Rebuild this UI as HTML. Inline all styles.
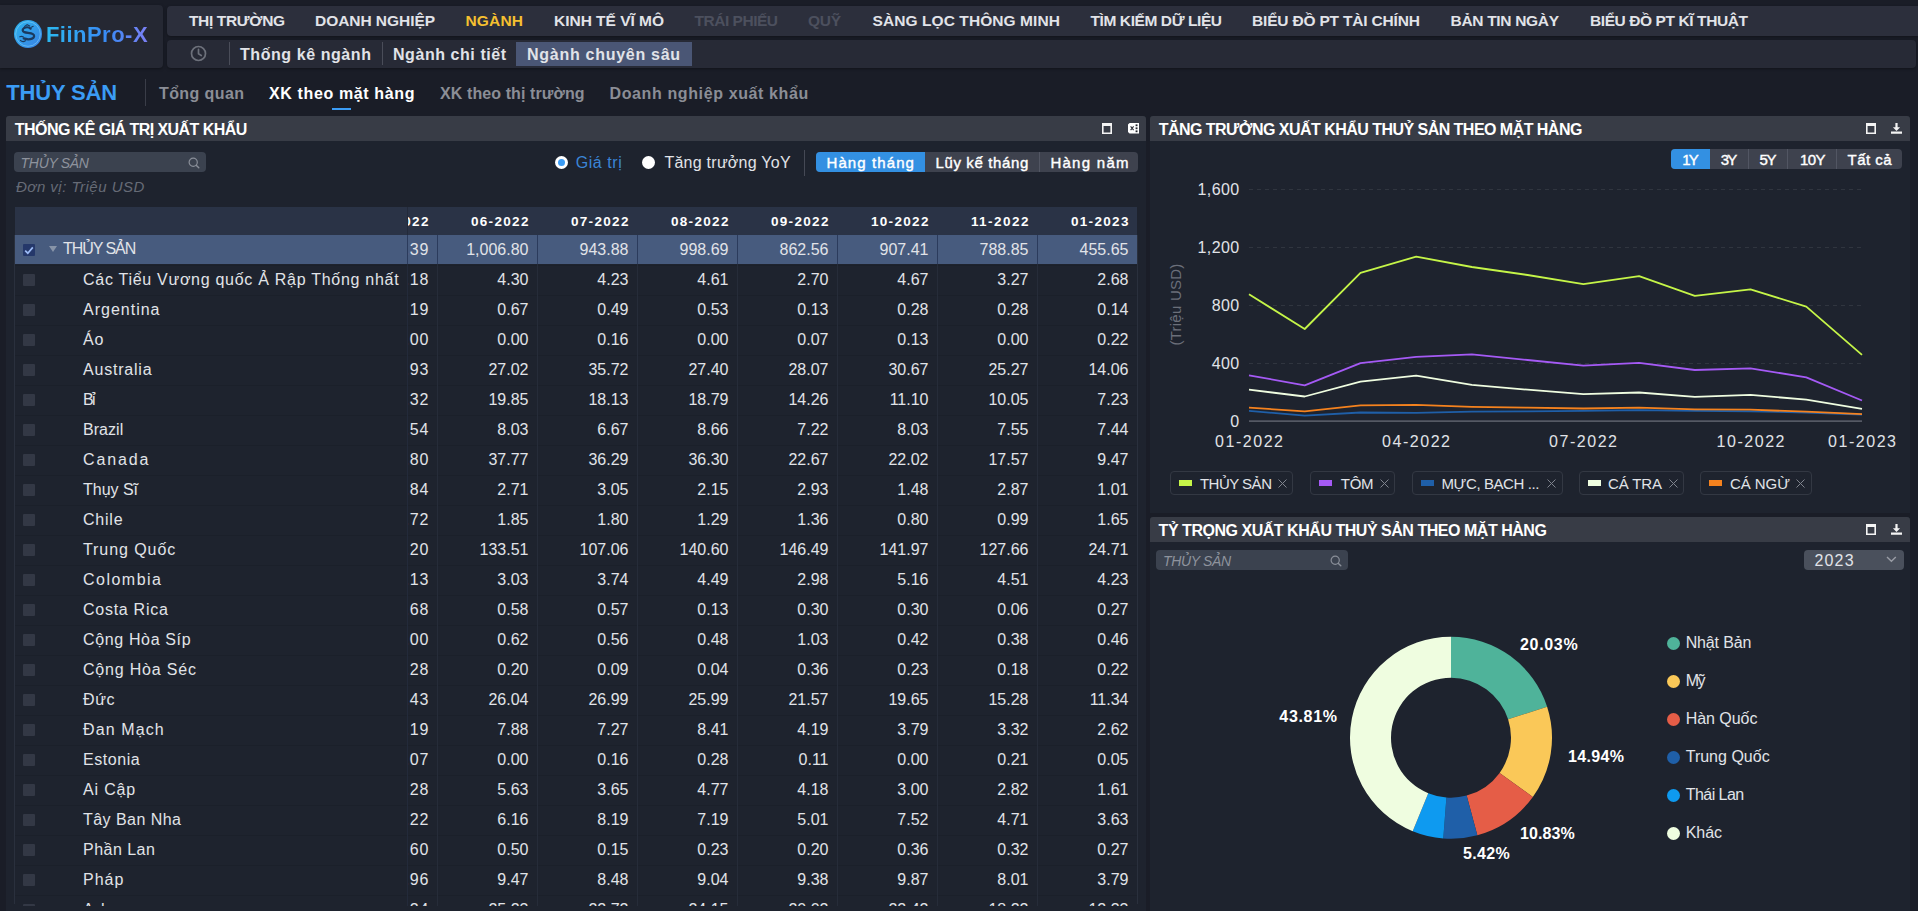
<!DOCTYPE html>
<html lang="vi"><head><meta charset="utf-8"><title>FiinPro-X</title>
<style>
html,body{margin:0;padding:0}
body{width:1918px;height:911px;overflow:hidden;position:relative;background:#1a1d27;color:#e1e3e8;font-family:"Liberation Sans", sans-serif;font-size:16px}
.t,.u{position:absolute;white-space:nowrap;line-height:1em}
.abs{position:absolute}
.sb{font-weight:700}
.md{font-weight:400;-webkit-text-stroke:.4px currentColor}
.panel{position:absolute;background:#1e232e;border-radius:3px 3px 0 0}
.phead{position:absolute;left:0;top:0;right:0;height:25px;background:#383c46;border-radius:3px 3px 0 0}
.row{position:absolute;left:0;width:1122px;height:30px;box-shadow:inset 0 1px 0 #1b202a}
.cb{position:absolute;left:8px;top:9px;width:12px;height:12px;background:#333845;border-radius:1px}
.num{position:absolute;top:6.7px;width:91.5px;text-align:right;line-height:1em;font-size:16px;white-space:nowrap}
.vl{position:absolute;top:28px;bottom:0;width:1px;background:#262c39}
.grad{background:linear-gradient(90deg,#2bb8f0 0%,#3a8af5 60%,#7c80f5 100%);-webkit-background-clip:text;background-clip:text;color:transparent !important;-webkit-text-fill-color:transparent}
</style></head>
<body>
<div class="abs" style="left:0;top:5px;width:163px;height:63px;background:#252833;border-radius:0 4px 4px 0;box-shadow:0 1px 3px rgba(0,0,0,.35)"><svg class="abs" style="left:13px;top:14px" width="30" height="30" viewBox="0 0 30 30">
<defs><linearGradient id="lg" x1="0" y1="0" x2="1" y2="1"><stop offset="0" stop-color="#2cb6ee"/><stop offset="1" stop-color="#3a80e4"/></linearGradient></defs>
<circle cx="15" cy="15" r="14" fill="url(#lg)"/>
<circle cx="15" cy="15" r="12.3" fill="none" stroke="#7fd0f7" stroke-width="0.8" opacity=".75"/>
<path d="M17.6 9.6c-1.5-1.4-4.6-1.7-6.6-.5-1.9 1.2-1.7 3.2.3 4 2.400 1 6.400 .6 8.600 2 2 1.300 1.400 3.600-.8 4.500-2.300 .9-5.700 .8-8.300-.2" fill="none" stroke="#1b3a5f" stroke-width="2.3" stroke-linecap="round"/>
<path d="M11.6 7.400l2.500-1.700 2.700 1.400M18.300 8.200l1.900-.9" fill="none" stroke="#1b3a5f" stroke-width="1.100" stroke-linecap="round"/>
<path d="M7.400 21.400c1.400 1.300 3.500 1.400 5 .3M6.800 17.800c1.200-.7 2.600-.5 3.600.2" fill="none" stroke="#1b3a5f" stroke-width="1.100" stroke-linecap="round"/>
</svg><span class="t grad" style="left:45.9px;top:18.9px;font-size:22px;font-weight:700;letter-spacing:0.49px;">FiinPro-X</span></div>
<div class="abs" style="left:167px;top:6px;width:1751px;height:30px;background:#2c2f3c;border-radius:4px 0 0 4px;box-shadow:0 1px 3px rgba(0,0,0,.35)"><span class="t sb" style="left:22.0px;top:7.4px;font-size:15.5px;letter-spacing:-0.36px;">THỊ TRƯỜNG</span><span class="t sb" style="left:148.0px;top:7.4px;font-size:15.5px;letter-spacing:-0.05px;">DOANH NGHIỆP</span><span class="t sb" style="left:298.5px;top:7.4px;font-size:15.5px;color:#f5c030;letter-spacing:0.16px;">NGÀNH</span><span class="t sb" style="left:387.0px;top:7.4px;font-size:15.5px;letter-spacing:-0.02px;">KINH TẾ VĨ MÔ</span><span class="t sb" style="left:527.5px;top:7.4px;font-size:15.5px;color:#4c505e;letter-spacing:-0.48px;">TRÁI PHIẾU</span><span class="t sb" style="left:641.0px;top:7.4px;font-size:15.5px;color:#4c505e;letter-spacing:-0.30px;">QUỸ</span><span class="t sb" style="left:705.5px;top:7.4px;font-size:15.5px;letter-spacing:0.08px;">SÀNG LỌC THÔNG MINH</span><span class="t sb" style="left:923.5px;top:7.4px;font-size:15.5px;letter-spacing:-0.41px;">TÌM KIẾM DỮ LIỆU</span><span class="t sb" style="left:1085.0px;top:7.4px;font-size:15.5px;letter-spacing:-0.18px;">BIỂU ĐỒ PT TÀI CHÍNH</span><span class="t sb" style="left:1283.5px;top:7.4px;font-size:15.5px;letter-spacing:-0.31px;">BẢN TIN NGÀY</span><span class="t sb" style="left:1423.0px;top:7.4px;font-size:15.5px;letter-spacing:-0.41px;">BIỂU ĐỒ PT KĨ THUẬT</span></div>
<div class="abs" style="left:167px;top:40px;width:1749px;height:28px;background:#272a36;border-radius:4px;box-shadow:0 1px 3px rgba(0,0,0,.35)"><svg class="abs" style="left:23px;top:4.7px" width="17" height="17" viewBox="0 0 17 17"><circle cx="8.5" cy="8.5" r="7" fill="none" stroke="#6d717b" stroke-width="1.7"/><path d="M8.5 4.4v4.4l2.8 1.7" fill="none" stroke="#6d717b" stroke-width="1.7" stroke-linecap="round" stroke-linejoin="round"/></svg><div style="position:absolute;left:62px;top:2px;width:1px;height:23px;background:#4a4d59;"></div><div style="position:absolute;left:215px;top:2px;width:1px;height:23px;background:#4a4d59;"></div><div style="position:absolute;left:349px;top:2px;width:176px;height:24px;background:#4a5675;"></div><span class="t sb" style="left:73.0px;top:6.5px;font-size:16px;letter-spacing:0.57px;">Thống kê ngành</span><span class="t sb" style="left:226.0px;top:6.5px;font-size:16px;letter-spacing:0.56px;">Ngành chi tiết</span><span class="t sb" style="left:360.0px;top:6.5px;font-size:16px;letter-spacing:0.72px;">Ngành chuyên sâu</span></div>
<span class="t" style="left:6.2px;top:82.1px;font-size:22px;font-weight:700;color:#3b9cf5;letter-spacing:-0.14px;">THỦY SẢN</span>
<div style="position:absolute;left:145px;top:79px;width:1px;height:27px;background:#3a3d48;"></div>
<span class="t sb" style="left:159.0px;top:86.0px;font-size:16px;color:#8b8e96;letter-spacing:0.40px;">Tổng quan</span>
<span class="t sb" style="left:269.0px;top:86.0px;font-size:16px;color:#ffffff;letter-spacing:0.63px;">XK theo mặt hàng</span>
<div style="position:absolute;left:332px;top:108px;width:19px;height:2px;background:#3b9cf5;"></div>
<span class="t sb" style="left:440.0px;top:86.0px;font-size:16px;color:#8b8e96;letter-spacing:0.10px;">XK theo thị trường</span>
<span class="t sb" style="left:609.5px;top:86.0px;font-size:16px;color:#8b8e96;letter-spacing:0.62px;">Doanh nghiệp xuất khẩu</span>
<div class="panel" style="left:6px;top:116px;width:1140px;height:795px"><div class="phead"><span class="t" style="left:8.8px;top:5.5px;font-size:16px;font-weight:700;color:#ffffff;letter-spacing:-0.55px;">THỐNG KÊ GIÁ TRỊ XUẤT KHẨU</span><svg class="abs" style="left:1096px;top:7px" width="10" height="11" viewBox="0 0 10 11"><path d="M0 0h10v11h-10z M1.600 3v6.400h6.800v-6.400z" fill="#f4f4f4" fill-rule="evenodd"/></svg><svg class="abs" style="left:1121.8px;top:7px" width="11" height="11" viewBox="0 0 11 11"><path d="M1.6 0h9.4v10.6h-9.4l-1.6-1.6v-7.4z" fill="#fff"/><path d="M2.6 3.4l3 3.8M5.6 3.4l-3 3.8" stroke="#2c2f38" stroke-width="1.1"/><rect x="7.6" y="1.4" width="1.9" height="1.8" fill="#20232b"/><rect x="7.6" y="4.4" width="1.9" height="1.8" fill="#20232b"/><rect x="7.6" y="7.4" width="1.9" height="1.8" fill="#20232b"/></svg></div><div style="position:absolute;left:8px;top:36px;width:192px;height:20px;background:#3b424f;border-radius:4px"><span class="t" style="left:6.6px;top:3.7px;font-size:14px;font-style:italic;color:#8e939d;letter-spacing:-0.31px;">THỦY SẢN</span></div><svg class="abs" style="left:181.5px;top:40.5px" width="12" height="12" viewBox="0 0 12 12"><circle cx="5.2" cy="5.2" r="4.1" fill="none" stroke="#8a8f99" stroke-width="1.2"/><path d="M8.2 8.2l2.6 2.6" stroke="#8a8f99" stroke-width="1.4" stroke-linecap="round"/></svg><span class="t" style="left:10.0px;top:63.3px;font-size:15px;font-style:italic;color:#666b76;letter-spacing:0.49px;">Đơn vị: Triệu USD</span><div class="abs" style="left:548.7px;top:39.7px;width:13.4px;height:13.4px;border-radius:50%;background:#fff"><div class="abs" style="left:3.2px;top:3.2px;width:7px;height:7px;border-radius:50%;background:#3b9cf5"></div></div><span class="t" style="left:569.7px;top:38.7px;font-size:16px;color:#3b85d6;letter-spacing:0.57px;">Giá trị</span><div class="abs" style="left:635.7px;top:39.7px;width:13.4px;height:13.4px;border-radius:50%;background:#fff"></div><span class="t" style="left:658.4px;top:38.7px;font-size:16px;letter-spacing:0.26px;">Tăng trưởng YoY</span><div style="position:absolute;left:797.5px;top:33.5px;width:1px;height:26px;background:#454955;"></div><div style="position:absolute;left:810px;top:36px;width:322px;height:20px;background:#3e424e;border-radius:4px;overflow:hidden"><div class="abs" style="left:0;top:0;width:109px;height:20px;background:#3390e2"></div><div class="abs" style="left:223px;top:0;width:1px;height:20px;background:#525663"></div></div><span class="t md" style="left:820.5px;top:38.9px;font-size:15px;color:#ffffff;letter-spacing:1.10px;">Hàng tháng</span><span class="t md" style="left:929.4px;top:38.9px;font-size:15px;color:#ffffff;letter-spacing:0.65px;">Lũy kế tháng</span><span class="t md" style="left:1044.4px;top:38.9px;font-size:15px;color:#ffffff;letter-spacing:1.27px;">Hàng năm</span><div class="abs" style="left:9px;top:91px;width:392px;height:699px;overflow:hidden"><div style="position:absolute;left:0px;top:0px;width:392px;height:28px;background:#2a3346;"></div><div class="row" style="top:28px;width:392px;background:#475b7e;height:29px;box-shadow:none;"><div class="cb" style="background:#25386a"><svg class="abs" style="left:1px;top:1.5px" width="10" height="9" viewBox="0 0 10 9"><path d="M1.2 4.6l2.6 2.6 5-5.8" fill="none" stroke="#9dbcf6" stroke-width="1.7"/></svg></div><div class="abs" style="left:33.8px;top:11.3px;width:0;height:0;border-left:4px solid transparent;border-right:4px solid transparent;border-top:6px solid #8794a8"></div><span class="t" style="left:48.0px;top:6.1px;font-size:16px;letter-spacing:-1.06px;">THỦY SẢN</span></div><div class="row" style="top:58px;width:392px;"><div class="cb"></div><span class="t" style="left:68.0px;top:7.1px;font-size:16px;letter-spacing:0.72px;">Các Tiểu Vương quốc Ả Rập Thống nhất</span></div><div class="row" style="top:88px;width:392px;"><div class="cb"></div><span class="t" style="left:68.0px;top:7.1px;font-size:16px;letter-spacing:1.00px;">Argentina</span></div><div class="row" style="top:118px;width:392px;"><div class="cb"></div><span class="t" style="left:68.0px;top:7.1px;font-size:16px;letter-spacing:0.92px;">Áo</span></div><div class="row" style="top:148px;width:392px;"><div class="cb"></div><span class="t" style="left:68.0px;top:7.1px;font-size:16px;letter-spacing:0.79px;">Australia</span></div><div class="row" style="top:178px;width:392px;"><div class="cb"></div><span class="t" style="left:68.0px;top:7.1px;font-size:16px;letter-spacing:-1.63px;">Bỉ</span></div><div class="row" style="top:208px;width:392px;"><div class="cb"></div><span class="t" style="left:68.0px;top:7.1px;font-size:16px;letter-spacing:0.04px;">Brazil</span></div><div class="row" style="top:238px;width:392px;"><div class="cb"></div><span class="t" style="left:68.0px;top:7.1px;font-size:16px;letter-spacing:1.85px;">Canada</span></div><div class="row" style="top:268px;width:392px;"><div class="cb"></div><span class="t" style="left:68.0px;top:7.1px;font-size:16px;letter-spacing:-0.02px;">Thụy Sĩ</span></div><div class="row" style="top:298px;width:392px;"><div class="cb"></div><span class="t" style="left:68.0px;top:7.1px;font-size:16px;letter-spacing:0.78px;">Chile</span></div><div class="row" style="top:328px;width:392px;"><div class="cb"></div><span class="t" style="left:68.0px;top:7.1px;font-size:16px;letter-spacing:0.93px;">Trung Quốc</span></div><div class="row" style="top:358px;width:392px;"><div class="cb"></div><span class="t" style="left:68.0px;top:7.1px;font-size:16px;letter-spacing:1.49px;">Colombia</span></div><div class="row" style="top:388px;width:392px;"><div class="cb"></div><span class="t" style="left:68.0px;top:7.1px;font-size:16px;letter-spacing:0.73px;">Costa Rica</span></div><div class="row" style="top:418px;width:392px;"><div class="cb"></div><span class="t" style="left:68.0px;top:7.1px;font-size:16px;letter-spacing:0.64px;">Cộng Hòa Síp</span></div><div class="row" style="top:448px;width:392px;"><div class="cb"></div><span class="t" style="left:68.0px;top:7.1px;font-size:16px;letter-spacing:0.81px;">Cộng Hòa Séc</span></div><div class="row" style="top:478px;width:392px;"><div class="cb"></div><span class="t" style="left:68.0px;top:7.1px;font-size:16px;letter-spacing:0.62px;">Đức</span></div><div class="row" style="top:508px;width:392px;"><div class="cb"></div><span class="t" style="left:68.0px;top:7.1px;font-size:16px;letter-spacing:1.11px;">Đan Mạch</span></div><div class="row" style="top:538px;width:392px;"><div class="cb"></div><span class="t" style="left:68.0px;top:7.1px;font-size:16px;letter-spacing:0.55px;">Estonia</span></div><div class="row" style="top:568px;width:392px;"><div class="cb"></div><span class="t" style="left:68.0px;top:7.1px;font-size:16px;letter-spacing:0.83px;">Ai Cập</span></div><div class="row" style="top:598px;width:392px;"><div class="cb"></div><span class="t" style="left:68.0px;top:7.1px;font-size:16px;letter-spacing:0.45px;">Tây Ban Nha</span></div><div class="row" style="top:628px;width:392px;"><div class="cb"></div><span class="t" style="left:68.0px;top:7.1px;font-size:16px;letter-spacing:0.47px;">Phần Lan</span></div><div class="row" style="top:658px;width:392px;"><div class="cb"></div><span class="t" style="left:68.0px;top:7.1px;font-size:16px;letter-spacing:1.01px;">Pháp</span></div><div class="row" style="top:688px;width:392px;"><div class="cb"></div><span class="t" style="left:68.0px;top:7.1px;font-size:16px;letter-spacing:-0.73px;">Anh</span></div></div><div class="abs" style="left:401px;top:91px;width:730px;height:699px;overflow:hidden"><div style="position:absolute;left:0px;top:0px;width:730px;height:28px;background:#2a3346;"></div><span class="t" style="left:-36.1px;top:7.5px;font-size:13.5px;font-weight:700;color:#ffffff;letter-spacing:1.33px;">05-2022</span><span class="t" style="left:63.9px;top:7.5px;font-size:13.5px;font-weight:700;color:#ffffff;letter-spacing:1.33px;">06-2022</span><span class="t" style="left:163.9px;top:7.5px;font-size:13.5px;font-weight:700;color:#ffffff;letter-spacing:1.33px;">07-2022</span><span class="t" style="left:263.9px;top:7.5px;font-size:13.5px;font-weight:700;color:#ffffff;letter-spacing:1.33px;">08-2022</span><span class="t" style="left:363.9px;top:7.5px;font-size:13.5px;font-weight:700;color:#ffffff;letter-spacing:1.33px;">09-2022</span><span class="t" style="left:463.9px;top:7.5px;font-size:13.5px;font-weight:700;color:#ffffff;letter-spacing:1.33px;">10-2022</span><span class="t" style="left:563.9px;top:7.5px;font-size:13.5px;font-weight:700;color:#ffffff;letter-spacing:1.45px;">11-2022</span><span class="t" style="left:663.9px;top:7.5px;font-size:13.5px;font-weight:700;color:#ffffff;letter-spacing:1.33px;">01-2023</span><div class="row" style="top:28px;width:730px;background:#475b7e;height:29px;box-shadow:none;"><span class="num" style="left:-69.1px;letter-spacing:.9px">1,065.39</span><span class="num" style="left:30px">1,006.80</span><span class="num" style="left:130px">943.88</span><span class="num" style="left:230px">998.69</span><span class="num" style="left:330px">862.56</span><span class="num" style="left:430px">907.41</span><span class="num" style="left:530px">788.85</span><span class="num" style="left:630px">455.65</span></div><div class="row" style="top:58px;width:730px;"><span class="num" style="left:-69.1px;letter-spacing:.9px">4.18</span><span class="num" style="left:30px">4.30</span><span class="num" style="left:130px">4.23</span><span class="num" style="left:230px">4.61</span><span class="num" style="left:330px">2.70</span><span class="num" style="left:430px">4.67</span><span class="num" style="left:530px">3.27</span><span class="num" style="left:630px">2.68</span></div><div class="row" style="top:88px;width:730px;"><span class="num" style="left:-69.1px;letter-spacing:.9px">0.19</span><span class="num" style="left:30px">0.67</span><span class="num" style="left:130px">0.49</span><span class="num" style="left:230px">0.53</span><span class="num" style="left:330px">0.13</span><span class="num" style="left:430px">0.28</span><span class="num" style="left:530px">0.28</span><span class="num" style="left:630px">0.14</span></div><div class="row" style="top:118px;width:730px;"><span class="num" style="left:-69.1px;letter-spacing:.9px">0.00</span><span class="num" style="left:30px">0.00</span><span class="num" style="left:130px">0.16</span><span class="num" style="left:230px">0.00</span><span class="num" style="left:330px">0.07</span><span class="num" style="left:430px">0.13</span><span class="num" style="left:530px">0.00</span><span class="num" style="left:630px">0.22</span></div><div class="row" style="top:148px;width:730px;"><span class="num" style="left:-69.1px;letter-spacing:.9px">29.93</span><span class="num" style="left:30px">27.02</span><span class="num" style="left:130px">35.72</span><span class="num" style="left:230px">27.40</span><span class="num" style="left:330px">28.07</span><span class="num" style="left:430px">30.67</span><span class="num" style="left:530px">25.27</span><span class="num" style="left:630px">14.06</span></div><div class="row" style="top:178px;width:730px;"><span class="num" style="left:-69.1px;letter-spacing:.9px">18.32</span><span class="num" style="left:30px">19.85</span><span class="num" style="left:130px">18.13</span><span class="num" style="left:230px">18.79</span><span class="num" style="left:330px">14.26</span><span class="num" style="left:430px">11.10</span><span class="num" style="left:530px">10.05</span><span class="num" style="left:630px">7.23</span></div><div class="row" style="top:208px;width:730px;"><span class="num" style="left:-69.1px;letter-spacing:.9px">7.54</span><span class="num" style="left:30px">8.03</span><span class="num" style="left:130px">6.67</span><span class="num" style="left:230px">8.66</span><span class="num" style="left:330px">7.22</span><span class="num" style="left:430px">8.03</span><span class="num" style="left:530px">7.55</span><span class="num" style="left:630px">7.44</span></div><div class="row" style="top:238px;width:730px;"><span class="num" style="left:-69.1px;letter-spacing:.9px">36.80</span><span class="num" style="left:30px">37.77</span><span class="num" style="left:130px">36.29</span><span class="num" style="left:230px">36.30</span><span class="num" style="left:330px">22.67</span><span class="num" style="left:430px">22.02</span><span class="num" style="left:530px">17.57</span><span class="num" style="left:630px">9.47</span></div><div class="row" style="top:268px;width:730px;"><span class="num" style="left:-69.1px;letter-spacing:.9px">2.84</span><span class="num" style="left:30px">2.71</span><span class="num" style="left:130px">3.05</span><span class="num" style="left:230px">2.15</span><span class="num" style="left:330px">2.93</span><span class="num" style="left:430px">1.48</span><span class="num" style="left:530px">2.87</span><span class="num" style="left:630px">1.01</span></div><div class="row" style="top:298px;width:730px;"><span class="num" style="left:-69.1px;letter-spacing:.9px">1.72</span><span class="num" style="left:30px">1.85</span><span class="num" style="left:130px">1.80</span><span class="num" style="left:230px">1.29</span><span class="num" style="left:330px">1.36</span><span class="num" style="left:430px">0.80</span><span class="num" style="left:530px">0.99</span><span class="num" style="left:630px">1.65</span></div><div class="row" style="top:328px;width:730px;"><span class="num" style="left:-69.1px;letter-spacing:.9px">170.20</span><span class="num" style="left:30px">133.51</span><span class="num" style="left:130px">107.06</span><span class="num" style="left:230px">140.60</span><span class="num" style="left:330px">146.49</span><span class="num" style="left:430px">141.97</span><span class="num" style="left:530px">127.66</span><span class="num" style="left:630px">24.71</span></div><div class="row" style="top:358px;width:730px;"><span class="num" style="left:-69.1px;letter-spacing:.9px">4.13</span><span class="num" style="left:30px">3.03</span><span class="num" style="left:130px">3.74</span><span class="num" style="left:230px">4.49</span><span class="num" style="left:330px">2.98</span><span class="num" style="left:430px">5.16</span><span class="num" style="left:530px">4.51</span><span class="num" style="left:630px">4.23</span></div><div class="row" style="top:388px;width:730px;"><span class="num" style="left:-69.1px;letter-spacing:.9px">0.68</span><span class="num" style="left:30px">0.58</span><span class="num" style="left:130px">0.57</span><span class="num" style="left:230px">0.13</span><span class="num" style="left:330px">0.30</span><span class="num" style="left:430px">0.30</span><span class="num" style="left:530px">0.06</span><span class="num" style="left:630px">0.27</span></div><div class="row" style="top:418px;width:730px;"><span class="num" style="left:-69.1px;letter-spacing:.9px">1.00</span><span class="num" style="left:30px">0.62</span><span class="num" style="left:130px">0.56</span><span class="num" style="left:230px">0.48</span><span class="num" style="left:330px">1.03</span><span class="num" style="left:430px">0.42</span><span class="num" style="left:530px">0.38</span><span class="num" style="left:630px">0.46</span></div><div class="row" style="top:448px;width:730px;"><span class="num" style="left:-69.1px;letter-spacing:.9px">0.28</span><span class="num" style="left:30px">0.20</span><span class="num" style="left:130px">0.09</span><span class="num" style="left:230px">0.04</span><span class="num" style="left:330px">0.36</span><span class="num" style="left:430px">0.23</span><span class="num" style="left:530px">0.18</span><span class="num" style="left:630px">0.22</span></div><div class="row" style="top:478px;width:730px;"><span class="num" style="left:-69.1px;letter-spacing:.9px">27.43</span><span class="num" style="left:30px">26.04</span><span class="num" style="left:130px">26.99</span><span class="num" style="left:230px">25.99</span><span class="num" style="left:330px">21.57</span><span class="num" style="left:430px">19.65</span><span class="num" style="left:530px">15.28</span><span class="num" style="left:630px">11.34</span></div><div class="row" style="top:508px;width:730px;"><span class="num" style="left:-69.1px;letter-spacing:.9px">8.19</span><span class="num" style="left:30px">7.88</span><span class="num" style="left:130px">7.27</span><span class="num" style="left:230px">8.41</span><span class="num" style="left:330px">4.19</span><span class="num" style="left:430px">3.79</span><span class="num" style="left:530px">3.32</span><span class="num" style="left:630px">2.62</span></div><div class="row" style="top:538px;width:730px;"><span class="num" style="left:-69.1px;letter-spacing:.9px">0.07</span><span class="num" style="left:30px">0.00</span><span class="num" style="left:130px">0.16</span><span class="num" style="left:230px">0.28</span><span class="num" style="left:330px">0.11</span><span class="num" style="left:430px">0.00</span><span class="num" style="left:530px">0.21</span><span class="num" style="left:630px">0.05</span></div><div class="row" style="top:568px;width:730px;"><span class="num" style="left:-69.1px;letter-spacing:.9px">5.28</span><span class="num" style="left:30px">5.63</span><span class="num" style="left:130px">3.65</span><span class="num" style="left:230px">4.77</span><span class="num" style="left:330px">4.18</span><span class="num" style="left:430px">3.00</span><span class="num" style="left:530px">2.82</span><span class="num" style="left:630px">1.61</span></div><div class="row" style="top:598px;width:730px;"><span class="num" style="left:-69.1px;letter-spacing:.9px">7.22</span><span class="num" style="left:30px">6.16</span><span class="num" style="left:130px">8.19</span><span class="num" style="left:230px">7.19</span><span class="num" style="left:330px">5.01</span><span class="num" style="left:430px">7.52</span><span class="num" style="left:530px">4.71</span><span class="num" style="left:630px">3.63</span></div><div class="row" style="top:628px;width:730px;"><span class="num" style="left:-69.1px;letter-spacing:.9px">0.60</span><span class="num" style="left:30px">0.50</span><span class="num" style="left:130px">0.15</span><span class="num" style="left:230px">0.23</span><span class="num" style="left:330px">0.20</span><span class="num" style="left:430px">0.36</span><span class="num" style="left:530px">0.32</span><span class="num" style="left:630px">0.27</span></div><div class="row" style="top:658px;width:730px;"><span class="num" style="left:-69.1px;letter-spacing:.9px">10.96</span><span class="num" style="left:30px">9.47</span><span class="num" style="left:130px">8.48</span><span class="num" style="left:230px">9.04</span><span class="num" style="left:330px">9.38</span><span class="num" style="left:430px">9.87</span><span class="num" style="left:530px">8.01</span><span class="num" style="left:630px">3.79</span></div><div class="row" style="top:688px;width:730px;"><span class="num" style="left:-69.1px;letter-spacing:.9px">25.24</span><span class="num" style="left:30px">25.23</span><span class="num" style="left:130px">22.72</span><span class="num" style="left:230px">24.15</span><span class="num" style="left:330px">20.02</span><span class="num" style="left:430px">22.42</span><span class="num" style="left:530px">18.22</span><span class="num" style="left:630px">12.33</span></div><div class="vl" style="left:0;top:0;background:#232a3a"></div><div class="abs" style="left:0;top:28px;width:1px;height:29px;background:#2b3b5c"></div><div class="vl" style="left:30px"></div><div class="abs" style="left:30px;top:28px;width:1px;height:29px;background:#2b3b5c"></div><div class="vl" style="left:130px"></div><div class="abs" style="left:130px;top:28px;width:1px;height:29px;background:#2b3b5c"></div><div class="vl" style="left:230px"></div><div class="abs" style="left:230px;top:28px;width:1px;height:29px;background:#2b3b5c"></div><div class="vl" style="left:330px"></div><div class="abs" style="left:330px;top:28px;width:1px;height:29px;background:#2b3b5c"></div><div class="vl" style="left:430px"></div><div class="abs" style="left:430px;top:28px;width:1px;height:29px;background:#2b3b5c"></div><div class="vl" style="left:530px"></div><div class="abs" style="left:530px;top:28px;width:1px;height:29px;background:#2b3b5c"></div><div class="vl" style="left:630px"></div><div class="abs" style="left:630px;top:28px;width:1px;height:29px;background:#2b3b5c"></div></div><div style="position:absolute;left:8px;top:119px;width:1px;height:669px;background:#2a303d;"></div><div style="position:absolute;left:1131px;top:119px;width:1px;height:669px;background:#2a303d;"></div></div>
<div class="panel" style="left:1150px;top:116px;width:760px;height:397px"><div class="phead"><span class="t" style="left:8.7px;top:5.5px;font-size:16px;font-weight:700;color:#ffffff;letter-spacing:-0.53px;">TĂNG TRƯỞNG XUẤT KHẨU THUỶ SẢN THEO MẶT HÀNG</span><svg class="abs" style="left:716px;top:7px" width="10" height="11" viewBox="0 0 10 11"><path d="M0 0h10v11h-10z M1.600 3v6.400h6.800v-6.400z" fill="#f4f4f4" fill-rule="evenodd"/></svg><svg class="abs" style="left:741.3px;top:7px" width="11" height="11" viewBox="0 0 11 11"><path d="M4.400 0h2.200v4.200h2.500l-3.600 3.700-3.600-3.700h2.500z M0 8.400h11v2.400h-11z" fill="#f4f4f4"/></svg></div><div style="position:absolute;left:521px;top:33px;width:231px;height:20px;background:#3e424e;border-radius:4px;overflow:hidden"><div class="abs" style="left:0;top:0;width:39px;height:20px;background:#3390e2"></div><div class="abs" style="left:77px;top:0;width:1px;height:20px;background:#525663"></div><div class="abs" style="left:116px;top:0;width:1px;height:20px;background:#525663"></div><div class="abs" style="left:165px;top:0;width:1px;height:20px;background:#525663"></div></div><span class="t md" style="left:532.3px;top:35.9px;font-size:15px;color:#ffffff;letter-spacing:-1.96px;">1Y</span><span class="t md" style="left:570.7px;top:35.9px;font-size:15px;color:#ffffff;letter-spacing:-1.66px;">3Y</span><span class="t md" style="left:609.6px;top:35.9px;font-size:15px;color:#ffffff;letter-spacing:-1.46px;">5Y</span><span class="t md" style="left:650.0px;top:35.9px;font-size:15px;color:#ffffff;letter-spacing:-0.60px;">10Y</span><span class="t md" style="left:697.6px;top:35.9px;font-size:15px;color:#ffffff;letter-spacing:0.44px;">Tất cả</span><span class="u" style="left:39.59999999999991px;width:50px;letter-spacing:.4px;text-align:right;top:66.0px;font-size:16px">1,600</span><span class="u" style="left:39.59999999999991px;width:50px;letter-spacing:.4px;text-align:right;top:124.0px;font-size:16px">1,200</span><span class="u" style="left:39.59999999999991px;width:50px;letter-spacing:.4px;text-align:right;top:182.0px;font-size:16px">800</span><span class="u" style="left:39.59999999999991px;width:50px;letter-spacing:.4px;text-align:right;top:240.0px;font-size:16px">400</span><span class="u" style="left:39.59999999999991px;width:50px;letter-spacing:.4px;text-align:right;top:298.0px;font-size:16px">0</span><span class="u" style="left:-24.700000000000045px;top:181.3px;width:100px;text-align:center;font-size:15px;letter-spacing:.25px;color:#6b6f7a;transform:rotate(-90deg)">(Triệu USD)</span><span class="t" style="left:65.0px;top:317.5px;font-size:16px;letter-spacing:1.55px;">01-2022</span><span class="t" style="left:232.0px;top:317.5px;font-size:16px;letter-spacing:1.55px;">04-2022</span><span class="t" style="left:399.0px;top:317.5px;font-size:16px;letter-spacing:1.55px;">07-2022</span><span class="t" style="left:566.5px;top:317.5px;font-size:16px;letter-spacing:1.55px;">10-2022</span><span class="t" style="left:678.0px;top:317.5px;font-size:16px;letter-spacing:1.55px;">01-2023</span><svg class="abs" style="left:0;top:0" width="760" height="397" viewBox="1150 116 760 397"><path d="M1249 189.5H1862" stroke="#30353f" stroke-width="1" stroke-dasharray="4 4" fill="none"/><path d="M1249 247.5H1862" stroke="#30353f" stroke-width="1" stroke-dasharray="4 4" fill="none"/><path d="M1249 305.5H1862" stroke="#30353f" stroke-width="1" stroke-dasharray="4 4" fill="none"/><path d="M1249 363.5H1862" stroke="#30353f" stroke-width="1" stroke-dasharray="4 4" fill="none"/><path d="M1249 421.2H1862" stroke="#555964" stroke-width="1.8" fill="none"/><path d="M1249.0 294.2 L1304.7 329.0 L1360.5 272.8 L1416.2 256.7 L1471.9 267.0 L1527.6 275.0 L1583.4 284.1 L1639.1 276.2 L1694.8 295.9 L1750.5 289.4 L1806.3 306.6 L1862.0 354.9" stroke="#c5f548" stroke-width="1.8" fill="none" stroke-linejoin="round"/><path d="M1249.0 375.3 L1304.7 385.3 L1360.5 363.2 L1416.2 356.8 L1471.9 354.4 L1527.6 360.0 L1583.4 365.6 L1639.1 362.8 L1694.8 370.0 L1750.5 368.4 L1806.3 377.3 L1862.0 400.5" stroke="#a55af5" stroke-width="1.8" fill="none" stroke-linejoin="round"/><path d="M1249.0 389.7 L1304.7 396.5 L1360.5 381.7 L1416.2 375.7 L1471.9 384.9 L1527.6 389.7 L1583.4 394.1 L1639.1 392.5 L1694.8 396.9 L1750.5 394.9 L1806.3 399.7 L1862.0 408.9" stroke="#effde0" stroke-width="1.8" fill="none" stroke-linejoin="round"/><path d="M1249.0 410.9 L1304.7 415.7 L1360.5 412.5 L1416.2 412.9 L1471.9 411.7 L1527.6 411.3 L1583.4 410.9 L1639.1 410.1 L1694.8 410.9 L1750.5 411.3 L1806.3 412.5 L1862.0 414.5" stroke="#1f5fa8" stroke-width="1.8" fill="none" stroke-linejoin="round"/><path d="M1249.0 407.7 L1304.7 411.3 L1360.5 405.3 L1416.2 404.9 L1471.9 406.9 L1527.6 407.7 L1583.4 408.5 L1639.1 407.7 L1694.8 409.3 L1750.5 409.7 L1806.3 411.7 L1862.0 414.1" stroke="#f5821e" stroke-width="1.8" fill="none" stroke-linejoin="round"/></svg><div style="position:absolute;left:20px;top:355px;width:123px;height:24px;background:transparent;border:1px solid #333843;border-radius:4px;box-sizing:border-box"></div><div style="position:absolute;left:28.6px;top:364.3px;width:13px;height:6.2px;background:#c5f548;"></div><span class="t" style="left:49.9px;top:359.9px;font-size:15px;letter-spacing:-0.50px;">THỦY SẢN</span><svg class="abs" style="left:128.4000000000001px;top:363px" width="9" height="9" viewBox="0 0 9 9"><path d="M.5 .5l8 8M8.5 .5l-8 8" stroke="#80848e" stroke-width="1"/></svg><div style="position:absolute;left:160px;top:355px;width:85px;height:24px;background:transparent;border:1px solid #333843;border-radius:4px;box-sizing:border-box"></div><div style="position:absolute;left:168.6px;top:364.3px;width:13px;height:6.2px;background:#a55af5;"></div><span class="t" style="left:190.8px;top:359.9px;font-size:15px;letter-spacing:-0.26px;">TÔM</span><svg class="abs" style="left:229.79999999999995px;top:363px" width="9" height="9" viewBox="0 0 9 9"><path d="M.5 .5l8 8M8.5 .5l-8 8" stroke="#80848e" stroke-width="1"/></svg><div style="position:absolute;left:262px;top:355px;width:151px;height:24px;background:transparent;border:1px solid #333843;border-radius:4px;box-sizing:border-box"></div><div style="position:absolute;left:270.6px;top:364.3px;width:13px;height:6.2px;background:#1f5fa8;"></div><span class="t" style="left:291.5px;top:359.9px;font-size:15px;letter-spacing:-0.41px;">MỰC, BẠCH ...</span><svg class="abs" style="left:397px;top:363px" width="9" height="9" viewBox="0 0 9 9"><path d="M.5 .5l8 8M8.5 .5l-8 8" stroke="#80848e" stroke-width="1"/></svg><div style="position:absolute;left:429px;top:355px;width:105px;height:24px;background:transparent;border:1px solid #333843;border-radius:4px;box-sizing:border-box"></div><div style="position:absolute;left:437.6px;top:364.3px;width:13px;height:6.2px;background:#effde0;"></div><span class="t" style="left:458.0px;top:359.9px;font-size:15px;letter-spacing:-0.15px;">CÁ TRA</span><svg class="abs" style="left:518.8px;top:363px" width="9" height="9" viewBox="0 0 9 9"><path d="M.5 .5l8 8M8.5 .5l-8 8" stroke="#80848e" stroke-width="1"/></svg><div style="position:absolute;left:550px;top:355px;width:112px;height:24px;background:transparent;border:1px solid #333843;border-radius:4px;box-sizing:border-box"></div><div style="position:absolute;left:558.6px;top:364.3px;width:13px;height:6.2px;background:#f5821e;"></div><span class="t" style="left:580.0px;top:359.9px;font-size:15px;letter-spacing:-0.07px;">CÁ NGỪ</span><svg class="abs" style="left:646.4000000000001px;top:363px" width="9" height="9" viewBox="0 0 9 9"><path d="M.5 .5l8 8M8.5 .5l-8 8" stroke="#80848e" stroke-width="1"/></svg></div>
<div class="panel" style="left:1150px;top:517px;width:760px;height:394px"><div class="phead"><span class="t" style="left:8.6px;top:5.5px;font-size:16px;font-weight:700;color:#ffffff;letter-spacing:-0.47px;">TỶ TRỌNG XUẤT KHẨU THUỶ SẢN THEO MẶT HÀNG</span><svg class="abs" style="left:716px;top:7px" width="10" height="11" viewBox="0 0 10 11"><path d="M0 0h10v11h-10z M1.600 3v6.400h6.800v-6.400z" fill="#f4f4f4" fill-rule="evenodd"/></svg><svg class="abs" style="left:741.3px;top:7px" width="11" height="11" viewBox="0 0 11 11"><path d="M4.400 0h2.200v4.200h2.500l-3.600 3.700-3.600-3.700h2.500z M0 8.400h11v2.400h-11z" fill="#f4f4f4"/></svg></div><div style="position:absolute;left:6px;top:33px;width:192px;height:20px;background:#3b424f;border-radius:4px"><span class="t" style="left:7.0px;top:4.1px;font-size:14px;font-style:italic;color:#8e939d;letter-spacing:-0.36px;">THỦY SẢN</span></div><svg class="abs" style="left:180px;top:37.5px" width="12" height="12" viewBox="0 0 12 12"><circle cx="5.2" cy="5.2" r="4.1" fill="none" stroke="#8a8f99" stroke-width="1.2"/><path d="M8.2 8.2l2.6 2.6" stroke="#8a8f99" stroke-width="1.4" stroke-linecap="round"/></svg><div style="position:absolute;left:654px;top:33px;width:100px;height:20px;background:#4a505c;border-radius:4px"><span class="t" style="left:10.4px;top:3.1px;font-size:16px;letter-spacing:1.20px;">2023</span><svg class="abs" style="left:81.8px;top:6.2px" width="11" height="7" viewBox="0 0 11 7"><path d="M1 1l4.400 4.200L9.800 1" fill="none" stroke="#9a9da6" stroke-width="1.4"/></svg></div><svg class="abs" style="left:0;top:0" width="760" height="394" viewBox="1150 517 760 394"><path d="M1451.00 636.70A101.0 101.0 0 0 1 1547.12 706.67L1508.10 719.27A60.0 60.0 0 0 0 1451.00 677.70Z" fill="#4fb39a"/><path d="M1547.12 706.67A101.0 101.0 0 0 1 1532.82 796.91L1499.61 772.88A60.0 60.0 0 0 0 1508.10 719.27Z" fill="#fac858"/><path d="M1532.82 796.91A101.0 101.0 0 0 1 1477.34 835.20L1466.65 795.62A60.0 60.0 0 0 0 1499.61 772.88Z" fill="#e55d47"/><path d="M1477.34 835.20A101.0 101.0 0 0 1 1443.27 838.40L1446.41 797.52A60.0 60.0 0 0 0 1466.65 795.62Z" fill="#1f5fa8"/><path d="M1443.27 838.40A101.0 101.0 0 0 1 1412.70 831.16L1428.25 793.22A60.0 60.0 0 0 0 1446.41 797.52Z" fill="#0e9af0"/><path d="M1412.70 831.16A101.0 101.0 0 0 1 1451.00 636.70L1451.00 677.70A60.0 60.0 0 0 0 1428.25 793.22Z" fill="#effde0"/></svg><span class="t" style="left:370.0px;top:120.0px;font-size:16px;font-weight:700;color:#ffffff;letter-spacing:0.67px;">20.03%</span><span class="t" style="left:418.0px;top:232.0px;font-size:16px;font-weight:700;color:#ffffff;letter-spacing:0.33px;">14.94%</span><span class="t" style="left:370.0px;top:309.0px;font-size:16px;font-weight:700;color:#ffffff;letter-spacing:0.09px;">10.83%</span><span class="t" style="left:313.0px;top:328.7px;font-size:16px;font-weight:700;color:#ffffff;letter-spacing:0.36px;">5.42%</span><span class="t" style="left:129.3px;top:192.0px;font-size:16px;font-weight:700;color:#ffffff;letter-spacing:0.69px;">43.81%</span><div class="abs" style="left:516.9px;top:119.5px;width:13.4px;height:13.4px;border-radius:50%;background:#4fb39a"></div><span class="t" style="left:535.7px;top:118.2px;font-size:16px;letter-spacing:-0.15px;">Nhật Bản</span><div class="abs" style="left:516.9px;top:157.5px;width:13.4px;height:13.4px;border-radius:50%;background:#fac858"></div><span class="t" style="left:535.7px;top:156.2px;font-size:16px;letter-spacing:-1.53px;">Mỹ</span><div class="abs" style="left:516.9px;top:195.5px;width:13.4px;height:13.4px;border-radius:50%;background:#e55d47"></div><span class="t" style="left:535.7px;top:194.2px;font-size:16px;letter-spacing:-0.05px;">Hàn Quốc</span><div class="abs" style="left:516.9px;top:233.5px;width:13.4px;height:13.4px;border-radius:50%;background:#1f5fa8"></div><span class="t" style="left:535.7px;top:232.2px;font-size:16px;letter-spacing:0.01px;">Trung Quốc</span><div class="abs" style="left:516.9px;top:271.5px;width:13.4px;height:13.4px;border-radius:50%;background:#0e9af0"></div><span class="t" style="left:535.7px;top:270.2px;font-size:16px;letter-spacing:-0.54px;">Thái Lan</span><div class="abs" style="left:516.9px;top:309.5px;width:13.4px;height:13.4px;border-radius:50%;background:#effde0"></div><span class="t" style="left:535.7px;top:308.2px;font-size:16px;letter-spacing:-0.06px;">Khác</span></div>
</body></html>
